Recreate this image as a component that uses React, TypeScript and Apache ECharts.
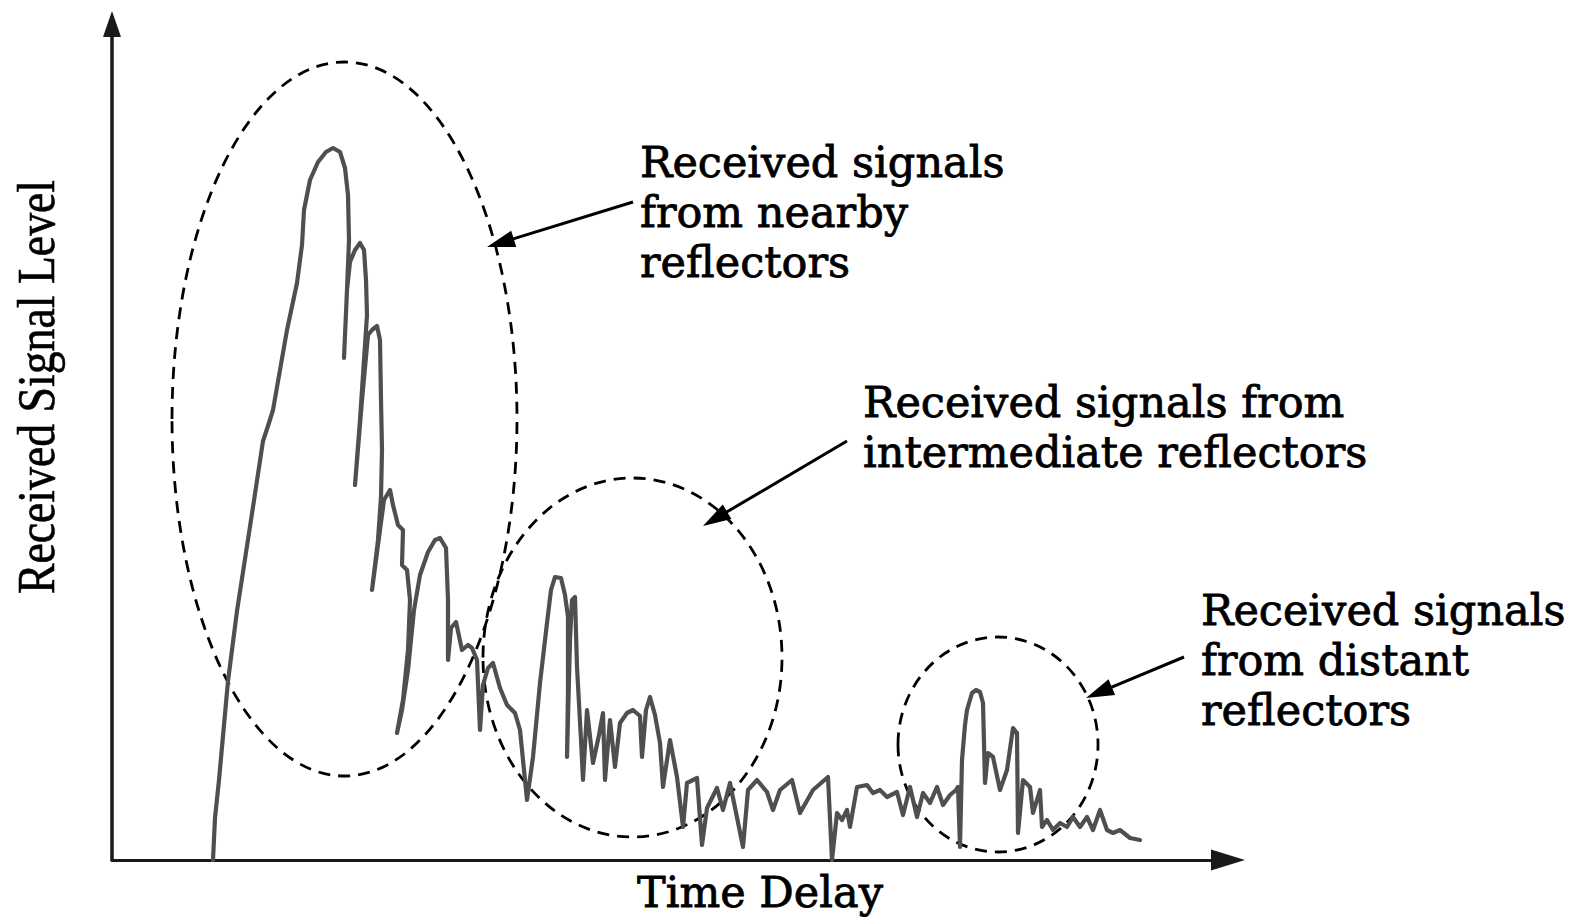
import React, { useEffect, useRef } from "react";
import * as echarts from "echarts";

// Time delay (arbitrary units) and received signal level (arbitrary units) in drawing order
const timeDelay = [
  101, 103, 107, 110, 116, 125, 133, 141, 151, 156, 161, 168, 175, 185, 190, 192, 198, 206, 214, 221,
  228, 233, 236, 237, 235, 232, 235, 238, 243, 248, 252, 254, 255, 252, 248, 243, 250, 256, 260, 265,
  268, 269, 270, 269, 266, 260, 268, 272, 278, 281, 286, 291, 290, 295, 298, 296, 291, 285, 290, 296,
  302, 308, 316, 323, 328, 334, 336, 336, 339, 344, 350, 356, 360, 365, 368, 371, 376, 381, 388, 395,
  403, 408, 412, 415, 421, 428, 435, 439, 443, 449, 453, 456, 456, 455, 458, 460, 463, 465, 469, 471,
  475, 481, 487, 491, 493, 498, 503, 508, 515, 521, 528, 530, 534, 538, 543, 548, 551, 558, 565, 571,
  575, 585, 590, 595, 605, 611, 618, 631, 636, 645, 655, 661, 668, 680, 688, 701, 716, 720, 725, 730,
  735, 738, 745, 755, 761, 768, 775, 785, 791, 798, 805, 811, 818, 825, 831, 838, 844, 846, 848, 850,
  853, 855, 860, 864, 868, 871, 873, 876, 881, 888, 895, 900, 901, 905, 906, 911, 918, 921, 928, 930,
  935, 941, 948, 955, 961, 968, 975, 981, 988, 995, 1001, 1008, 1018, 1028,
];
const signalLevel = [
  0, 42, 80, 113, 179, 249, 301, 353, 419, 434, 450, 490, 530, 577, 615, 650, 680, 698, 708, 712,
  708, 692, 665, 620, 570, 502, 570, 598, 610, 617, 610, 580, 545, 500, 440, 375, 460, 525, 530, 534,
  520, 460, 410, 363, 320, 270, 330, 360, 370, 355, 335, 330, 295, 290, 260, 210, 160, 127, 150, 190,
  250, 285, 308, 320, 322, 312, 260, 200, 232, 238, 210, 215, 212, 200, 130, 175, 192, 197, 172, 155,
  147, 130, 90, 60, 103, 177, 237, 270, 283, 282, 265, 243, 170, 103, 220, 260, 263, 193, 120, 80,
  150, 97, 125, 147, 80, 140, 93, 137, 147, 150, 144, 103, 150, 163, 145, 117, 73, 120, 83, 33,
  77, 82, 15, 52, 72, 50, 77, 13, 70, 80, 68, 50, 70, 80, 47, 70, 83, 0, 47, 40,
  50, 33, 73, 75, 67, 70, 63, 68, 45, 73, 43, 67, 57, 73, 55, 65, 70, 73, 13, 100,
  135, 150, 167, 170, 168, 157, 77, 107, 103, 70, 90, 125, 132, 127, 27, 80, 73, 47, 70, 33,
  40, 30, 37, 33, 43, 33, 43, 30, 50, 30, 27, 30, 22, 20,
];

const xAxisMax = 1116;
const yAxisMax = 836;

const yAxisTitle = "Received Signal Level";
const xAxisTitle = "Time Delay";
const nearbyLabel = ["Received signals", "from nearby", "reflectors"];
const intermediateLabel = ["Received signals from", "intermediate reflectors"];
const distantLabel = ["Received signals", "from distant", "reflectors"];

function arrow(x1: number, y1: number, x2: number, y2: number) {
  const len = 28;
  const hw = 8.5;
  const dx = x2 - x1;
  const dy = y2 - y1;
  const L = Math.hypot(dx, dy);
  const ux = dx / L;
  const uy = dy / L;
  const bx = x2 - ux * len;
  const by = y2 - uy * len;
  const px = -uy;
  const py = ux;
  return [
    {
      type: "line",
      shape: { x1, y1, x2: bx + ux * 4, y2: by + uy * 4 },
      style: { stroke: "#000", lineWidth: 3 },
    },
    {
      type: "polygon",
      shape: {
        points: [
          [x2, y2],
          [bx + px * hw, by + py * hw],
          [bx - px * hw, by - py * hw],
        ],
      },
      style: { fill: "#000" },
    },
  ];
}

function dashedEllipse(cx: number, cy: number, rx: number, ry: number) {
  return {
    type: "ellipse",
    shape: { cx, cy, rx, ry },
    style: { fill: null, stroke: "#000", lineWidth: 2.8, lineDash: [12, 8] },
  };
}

function label(lines: string[], x: number, y: number, align = "left") {
  return {
    type: "text",
    x,
    y,
    style: {
      text: lines.join("\n"),
      fontFamily: '"DejaVu Serif", serif',
      fontSize: 43,
      lineHeight: 50,
      fill: "#000",
      stroke: "#000",
      lineWidth: 0.8,
      align,
      verticalAlign: "top",
    },
  };
}

export default function App() {
  const ref = useRef<HTMLDivElement>(null);
  useEffect(() => {
    if (!ref.current) return;
    const chart = echarts.init(ref.current, null, { renderer: "svg" });
    const data = timeDelay.map((t, i) => [t, signalLevel[i]]);
    chart.setOption({
      animation: false,
      backgroundColor: "#fff",
      grid: { left: 112, right: 347, top: 24, bottom: 57, containLabel: false },
      xAxis: {
        type: "value",
        min: 0,
        max: xAxisMax,
        axisLine: {
          show: true,
          symbol: ["none", "triangle"],
          symbolSize: [21, 34],
          lineStyle: { color: "#1a1a1a", width: 3 },
        },
        axisTick: { show: false },
        axisLabel: { show: false },
        splitLine: { show: false },
      },
      yAxis: {
        type: "value",
        min: 0,
        max: yAxisMax,
        axisLine: {
          show: true,
          symbol: ["none", "triangle"],
          symbolSize: [18, 26],
          lineStyle: { color: "#1a1a1a", width: 3.5 },
        },
        axisTick: { show: false },
        axisLabel: { show: false },
        splitLine: { show: false },
      },
      series: [
        {
          type: "line",
          data,
          showSymbol: false,
          symbol: "none",
          smooth: false,
          lineStyle: { color: "#4f4f4f", width: 4.2, join: "round", cap: "round" },
          z: 3,
        },
      ],
      graphic: [
        dashedEllipse(344.5, 419, 172.5, 357),
        dashedEllipse(632.5, 657.5, 149.5, 179.5),
        dashedEllipse(998, 744.5, 100, 107.5),
        ...arrow(633, 202, 487, 247),
        ...arrow(847, 441, 703, 526),
        ...arrow(1184, 657, 1086, 698),
        label(nearbyLabel, 640, 137),
        label(intermediateLabel, 863, 377),
        label(distantLabel, 1201, 585),
        label([xAxisTitle], 760, 867, "center"),
        {
          type: "text",
          x: 36,
          y: 387,
          rotation: Math.PI / 2,
          scaleX: 0.88,
          scaleY: 1,
          style: {
            text: yAxisTitle,
            fontFamily: '"Liberation Serif", "Times New Roman", serif',
            fontSize: 52,
            fill: "#000",
            stroke: "#000",
            lineWidth: 0.6,
            align: "center",
            verticalAlign: "middle",
          },
        },
      ],
    });
    return () => chart.dispose();
  }, []);
  return (
    <div
      ref={ref}
      style={{ position: "fixed", left: 0, top: 0, width: 1575, height: 917, background: "#fff" }}
    />
  );
}
